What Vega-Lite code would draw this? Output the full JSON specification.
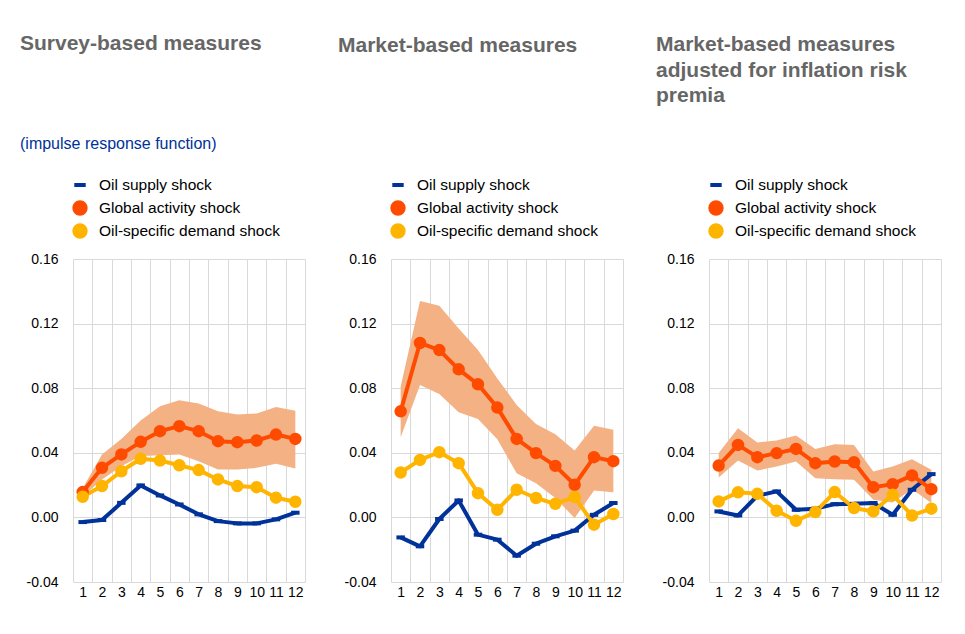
{
  "$schema": "https://vega.github.io/schema/vega-lite/v6.json",
  "background": "white",
  "padding": {"left": 20, "top": 33, "right": 20, "bottom": 20},
  "datasets": {
    "irf": [
      {"panel": "Survey", "h": 1, "supply": -0.0029, "global": 0.0157, "demand": 0.0128, "lo": 0.0130, "hi": 0.0180},
      {"panel": "Survey", "h": 2, "supply": -0.0016, "global": 0.0307, "demand": 0.0194, "lo": 0.0235, "hi": 0.0390},
      {"panel": "Survey", "h": 3, "supply": 0.0090, "global": 0.0390, "demand": 0.0286, "lo": 0.0317, "hi": 0.0486},
      {"panel": "Survey", "h": 4, "supply": 0.0198, "global": 0.0468, "demand": 0.0363, "lo": 0.0380, "hi": 0.0600},
      {"panel": "Survey", "h": 5, "supply": 0.0136, "global": 0.0534, "demand": 0.0352, "lo": 0.0385, "hi": 0.0688},
      {"panel": "Survey", "h": 6, "supply": 0.0080, "global": 0.0565, "demand": 0.0323, "lo": 0.0390, "hi": 0.0725},
      {"panel": "Survey", "h": 7, "supply": 0.0019, "global": 0.0534, "demand": 0.0293, "lo": 0.0348, "hi": 0.0705},
      {"panel": "Survey", "h": 8, "supply": -0.0023, "global": 0.0472, "demand": 0.0235, "lo": 0.0297, "hi": 0.0657},
      {"panel": "Survey", "h": 9, "supply": -0.0037, "global": 0.0466, "demand": 0.0194, "lo": 0.0297, "hi": 0.0637},
      {"panel": "Survey", "h": 10, "supply": -0.0037, "global": 0.0476, "demand": 0.0187, "lo": 0.0307, "hi": 0.0643},
      {"panel": "Survey", "h": 11, "supply": -0.0012, "global": 0.0513, "demand": 0.0122, "lo": 0.0332, "hi": 0.0684},
      {"panel": "Survey", "h": 12, "supply": 0.0029, "global": 0.0486, "demand": 0.0097, "lo": 0.0303, "hi": 0.0660},
      {"panel": "Market", "h": 1, "supply": -0.0124, "global": 0.0657, "demand": 0.0278, "lo": 0.0496, "hi": 0.0810},
      {"panel": "Market", "h": 2, "supply": -0.0179, "global": 0.1080, "demand": 0.0356, "lo": 0.0820, "hi": 0.1340},
      {"panel": "Market", "h": 3, "supply": -0.0010, "global": 0.1036, "demand": 0.0404, "lo": 0.0764, "hi": 0.1310},
      {"panel": "Market", "h": 4, "supply": 0.0105, "global": 0.0917, "demand": 0.0336, "lo": 0.0651, "hi": 0.1170},
      {"panel": "Market", "h": 5, "supply": -0.0107, "global": 0.0824, "demand": 0.0150, "lo": 0.0610, "hi": 0.1036},
      {"panel": "Market", "h": 6, "supply": -0.0138, "global": 0.0680, "demand": 0.0047, "lo": 0.0484, "hi": 0.0860},
      {"panel": "Market", "h": 7, "supply": -0.0237, "global": 0.0486, "demand": 0.0171, "lo": 0.0274, "hi": 0.0696},
      {"panel": "Market", "h": 8, "supply": -0.0163, "global": 0.0398, "demand": 0.0120, "lo": 0.0212, "hi": 0.0579},
      {"panel": "Market", "h": 9, "supply": -0.0117, "global": 0.0319, "demand": 0.0084, "lo": 0.0120, "hi": 0.0515},
      {"panel": "Market", "h": 10, "supply": -0.0082, "global": 0.0202, "demand": 0.0126, "lo": -0.0004, "hi": 0.0414},
      {"panel": "Market", "h": 11, "supply": 0.0016, "global": 0.0373, "demand": -0.0045, "lo": 0.0167, "hi": 0.0567},
      {"panel": "Market", "h": 12, "supply": 0.0089, "global": 0.0348, "demand": 0.0021, "lo": 0.0155, "hi": 0.0542},
      {"panel": "Adjusted", "h": 1, "supply": 0.0037, "global": 0.0321, "demand": 0.0099, "lo": 0.0247, "hi": 0.0398},
      {"panel": "Adjusted", "h": 2, "supply": 0.0012, "global": 0.0449, "demand": 0.0155, "lo": 0.0352, "hi": 0.0552},
      {"panel": "Adjusted", "h": 3, "supply": 0.0134, "global": 0.0373, "demand": 0.0146, "lo": 0.0290, "hi": 0.0464},
      {"panel": "Adjusted", "h": 4, "supply": 0.0161, "global": 0.0398, "demand": 0.0041, "lo": 0.0315, "hi": 0.0476},
      {"panel": "Adjusted", "h": 5, "supply": 0.0047, "global": 0.0424, "demand": -0.0021, "lo": 0.0346, "hi": 0.0507},
      {"panel": "Adjusted", "h": 6, "supply": 0.0054, "global": 0.0336, "demand": 0.0033, "lo": 0.0243, "hi": 0.0424},
      {"panel": "Adjusted", "h": 7, "supply": 0.0082, "global": 0.0346, "demand": 0.0157, "lo": 0.0237, "hi": 0.0453},
      {"panel": "Adjusted", "h": 8, "supply": 0.0084, "global": 0.0342, "demand": 0.0058, "lo": 0.0233, "hi": 0.0449},
      {"panel": "Adjusted", "h": 9, "supply": 0.0089, "global": 0.0187, "demand": 0.0037, "lo": 0.0109, "hi": 0.0284},
      {"panel": "Adjusted", "h": 10, "supply": 0.0016, "global": 0.0206, "demand": 0.0140, "lo": 0.0093, "hi": 0.0315},
      {"panel": "Adjusted", "h": 11, "supply": 0.0171, "global": 0.0260, "demand": 0.0012, "lo": 0.0175, "hi": 0.0360},
      {"panel": "Adjusted", "h": 12, "supply": 0.0268, "global": 0.0175, "demand": 0.0054, "lo": 0.0089, "hi": 0.0295}
    ]
  },
  "hconcat": [
    {
      "title": {"text": "Survey-based measures", "subtitle": "(impulse response function)", "offset": 25, "subtitlePadding": 82},
      "width": 232, "height": 323,
      "data": {"name": "irf"},
      "transform": [{"filter": {"field": "panel", "equal": "Survey"}}],
      "layer": [
        {"mark": {"type": "area", "color": "#f4b183", "opacity": 1},
         "encoding": {
           "x": {"field": "h", "type": "ordinal", "scale": {"type": "band", "paddingInner": 0, "paddingOuter": 0}},
           "y": {"field": "lo", "type": "quantitative", "scale": {"domain": [-0.04, 0.16], "nice": false, "zero": false}, "axis": {"values": [-0.04, 0, 0.04, 0.08, 0.12, 0.16], "labelExpr": "(datum.value < 0 ? '-' : '') + format(abs(datum.value), '.2f')"}},
           "y2": {"field": "hi"}}},
        {"transform": [{"fold": ["supply", "global", "demand"], "as": ["shock", "value"]}],
         "mark": {"type": "line", "strokeWidth": 4},
         "encoding": {
           "x": {"field": "h", "type": "ordinal"},
           "y": {"field": "value", "type": "quantitative"},
           "color": {"field": "shock", "type": "nominal", "scale": {"domain": ["supply", "global", "demand"], "range": ["#003299", "#ff4b00", "#ffb400"]},
             "legend": {"labelExpr": "datum.value === 'supply' ? 'Oil supply shock' : datum.value === 'global' ? 'Global activity shock' : 'Oil-specific demand shock'"}}}},
        {"transform": [{"fold": ["supply", "global", "demand"], "as": ["shock", "value"]}],
         "mark": {"type": "point", "filled": true, "size": 72, "opacity": 1, "strokeWidth": 4},
         "encoding": {
           "x": {"field": "h", "type": "ordinal"},
           "y": {"field": "value", "type": "quantitative"},
           "color": {"field": "shock", "type": "nominal"},
           "stroke": {"field": "shock", "type": "nominal", "scale": {"domain": ["supply", "global", "demand"], "range": ["#003299", "#ff4b00", "#ffb400"]},
             "legend": {"labelExpr": "datum.value === 'supply' ? 'Oil supply shock' : datum.value === 'global' ? 'Global activity shock' : 'Oil-specific demand shock'"}},
           "shape": {"field": "shock", "type": "nominal", "scale": {"domain": ["supply", "global", "demand"], "range": ["stroke", "circle", "circle"]},
             "legend": {"labelExpr": "datum.value === 'supply' ? 'Oil supply shock' : datum.value === 'global' ? 'Global activity shock' : 'Oil-specific demand shock'"}}}}
      ]
    },
    {
      "title": {"text": "Market-based measures", "offset": 121},
      "width": 232, "height": 323,
      "data": {"name": "irf"},
      "transform": [{"filter": {"field": "panel", "equal": "Market"}}],
      "layer": [
        {"mark": {"type": "area", "color": "#f4b183", "opacity": 1},
         "encoding": {
           "x": {"field": "h", "type": "ordinal", "scale": {"type": "band", "paddingInner": 0, "paddingOuter": 0}},
           "y": {"field": "lo", "type": "quantitative", "scale": {"domain": [-0.04, 0.16], "nice": false, "zero": false}, "axis": {"values": [-0.04, 0, 0.04, 0.08, 0.12, 0.16], "labelExpr": "(datum.value < 0 ? '-' : '') + format(abs(datum.value), '.2f')"}},
           "y2": {"field": "hi"}}},
        {"transform": [{"fold": ["supply", "global", "demand"], "as": ["shock", "value"]}],
         "mark": {"type": "line", "strokeWidth": 4},
         "encoding": {
           "x": {"field": "h", "type": "ordinal"},
           "y": {"field": "value", "type": "quantitative"},
           "color": {"field": "shock", "type": "nominal", "scale": {"domain": ["supply", "global", "demand"], "range": ["#003299", "#ff4b00", "#ffb400"]},
             "legend": {"labelExpr": "datum.value === 'supply' ? 'Oil supply shock' : datum.value === 'global' ? 'Global activity shock' : 'Oil-specific demand shock'"}}}},
        {"transform": [{"fold": ["supply", "global", "demand"], "as": ["shock", "value"]}],
         "mark": {"type": "point", "filled": true, "size": 72, "opacity": 1, "strokeWidth": 4},
         "encoding": {
           "x": {"field": "h", "type": "ordinal"},
           "y": {"field": "value", "type": "quantitative"},
           "color": {"field": "shock", "type": "nominal"},
           "stroke": {"field": "shock", "type": "nominal", "scale": {"domain": ["supply", "global", "demand"], "range": ["#003299", "#ff4b00", "#ffb400"]},
             "legend": {"labelExpr": "datum.value === 'supply' ? 'Oil supply shock' : datum.value === 'global' ? 'Global activity shock' : 'Oil-specific demand shock'"}},
           "shape": {"field": "shock", "type": "nominal", "scale": {"domain": ["supply", "global", "demand"], "range": ["stroke", "circle", "circle"]},
             "legend": {"labelExpr": "datum.value === 'supply' ? 'Oil supply shock' : datum.value === 'global' ? 'Global activity shock' : 'Oil-specific demand shock'"}}}}
      ]
    },
    {
      "title": {"text": ["Market-based measures", "adjusted for inflation risk", "premia"], "offset": 71},
      "width": 232, "height": 323,
      "data": {"name": "irf"},
      "transform": [{"filter": {"field": "panel", "equal": "Adjusted"}}],
      "layer": [
        {"mark": {"type": "area", "color": "#f4b183", "opacity": 1},
         "encoding": {
           "x": {"field": "h", "type": "ordinal", "scale": {"type": "band", "paddingInner": 0, "paddingOuter": 0}},
           "y": {"field": "lo", "type": "quantitative", "scale": {"domain": [-0.04, 0.16], "nice": false, "zero": false}, "axis": {"values": [-0.04, 0, 0.04, 0.08, 0.12, 0.16], "labelExpr": "(datum.value < 0 ? '-' : '') + format(abs(datum.value), '.2f')"}},
           "y2": {"field": "hi"}}},
        {"transform": [{"fold": ["supply", "global", "demand"], "as": ["shock", "value"]}],
         "mark": {"type": "line", "strokeWidth": 4},
         "encoding": {
           "x": {"field": "h", "type": "ordinal"},
           "y": {"field": "value", "type": "quantitative"},
           "color": {"field": "shock", "type": "nominal", "scale": {"domain": ["supply", "global", "demand"], "range": ["#003299", "#ff4b00", "#ffb400"]},
             "legend": {"labelExpr": "datum.value === 'supply' ? 'Oil supply shock' : datum.value === 'global' ? 'Global activity shock' : 'Oil-specific demand shock'"}}}},
        {"transform": [{"fold": ["supply", "global", "demand"], "as": ["shock", "value"]}],
         "mark": {"type": "point", "filled": true, "size": 72, "opacity": 1, "strokeWidth": 4},
         "encoding": {
           "x": {"field": "h", "type": "ordinal"},
           "y": {"field": "value", "type": "quantitative"},
           "color": {"field": "shock", "type": "nominal"},
           "stroke": {"field": "shock", "type": "nominal", "scale": {"domain": ["supply", "global", "demand"], "range": ["#003299", "#ff4b00", "#ffb400"]},
             "legend": {"labelExpr": "datum.value === 'supply' ? 'Oil supply shock' : datum.value === 'global' ? 'Global activity shock' : 'Oil-specific demand shock'"}},
           "shape": {"field": "shock", "type": "nominal", "scale": {"domain": ["supply", "global", "demand"], "range": ["stroke", "circle", "circle"]},
             "legend": {"labelExpr": "datum.value === 'supply' ? 'Oil supply shock' : datum.value === 'global' ? 'Global activity shock' : 'Oil-specific demand shock'"}}}}
      ]
    }
  ],
  "spacing": 86,
  "bounds": "flush",
  "resolve": {
    "scale": {"color": "independent", "stroke": "independent", "shape": "independent"},
    "legend": {"color": "independent", "stroke": "independent", "shape": "independent"}
  },
  "config": {
    "font": "Liberation Sans",
    "view": {"stroke": null},
    "title": {"anchor": "start", "frame": "group", "dx": -53, "font": "Liberation Sans", "fontSize": 21, "fontWeight": "bold", "color": "#666666", "lineHeight": 25.5, "subtitleFont": "Liberation Sans", "subtitleFontSize": 16, "subtitleColor": "#003299", "subtitleFontWeight": "normal"},
    "axisX": {"title": null, "labelAngle": 0, "tickBand": "extent", "ticks": false, "domain": false, "grid": true, "gridColor": "#d9d9d9", "gridWidth": 1, "labelFontSize": 14, "labelFont": "Liberation Sans", "labelColor": "#000000", "labelPadding": 3},
    "axisY": {"title": null, "ticks": false, "domain": false, "grid": true, "gridColor": "#d9d9d9", "gridWidth": 1, "labelFontSize": 14, "labelFont": "Liberation Sans", "labelColor": "#000000", "labelPadding": 15},
    "legend": {
      "orient": "none", "legendX": -1, "legendY": -82, "title": null,
      "labelFontSize": 15.5, "labelFont": "Liberation Sans", "labelColor": "#000000", "labelLimit": 400,
      "symbolSize": 130, "symbolStrokeWidth": 4, "rowPadding": 6, "labelOffset": 11
    },
    "line": {"strokeCap": "butt", "strokeJoin": "round"}
  }
}
